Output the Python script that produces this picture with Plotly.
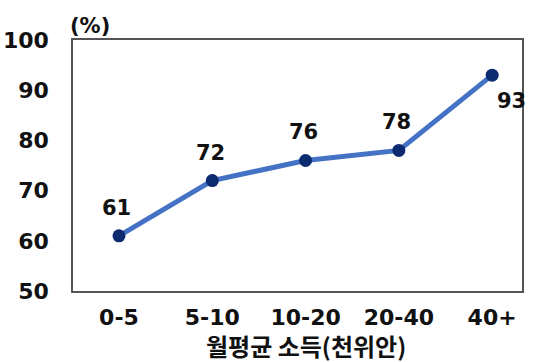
import plotly.graph_objects as go

# Share of respondents (%) by average monthly income bracket
categories = ["0-5", "5-10", "10-20", "20-40", "40+"]
values = [61, 72, 76, 78, 93]
y_ticks = [50, 60, 70, 80, 90, 100]

FONT = "DejaVu Sans, Noto Sans CJK KR, sans-serif"
KR_FONT = "Noto Sans CJK KR, sans-serif"
x_pos = list(range(len(categories)))

fig = go.Figure()
fig.add_trace(go.Scatter(
    x=x_pos, y=values, mode="lines+markers",
    line=dict(color="#4472C4", width=5),
    marker=dict(color="#0B2A6F", size=13),
    hoverinfo="skip",
))

# value labels: above the point, except the last one which sits lower-right
for i, v in enumerate(values):
    if i == len(values) - 1:
        fig.add_annotation(x=x_pos[i], y=v, text=f"<b>{v}</b>", showarrow=False,
                           xshift=19, yshift=-26,
                           font=dict(family=FONT, size=21, color="#111111"))
    else:
        fig.add_annotation(x=x_pos[i], y=v, text=f"<b>{v}</b>", showarrow=False,
                           xshift=-2, yshift=28,
                           font=dict(family=FONT, size=21, color="#111111"))

fig.add_annotation(xref="paper", yref="paper", x=-0.012, y=1.0, xanchor="left",
                   yanchor="bottom", yshift=0, text="<b>(%)</b>", showarrow=False,
                   font=dict(family=FONT, size=21, color="#111111"))

# x-axis caption
fig.add_annotation(xref="paper", yref="paper", x=0.518, y=0, xanchor="center",
                   yanchor="middle", yshift=-54, text="<b>월평균 소득(천위안)</b>",
                   showarrow=False, font=dict(family=KR_FONT, size=24, color="#111111"))

fig.update_xaxes(
    range=[-0.493, 4.32], tickvals=x_pos,
    ticktext=[f"<b>{c}</b>" for c in categories],
    showgrid=False, zeroline=False, showline=True, mirror=True,
    linecolor="#555555", linewidth=1.5, ticks="", ticklabelstandoff=6,
    tickfont=dict(family=FONT, size=22, color="#111111"), automargin=False,
)
fig.update_yaxes(
    range=[50, 100], tickvals=y_ticks, ticktext=[f"<b>{t}</b>" for t in y_ticks],
    showgrid=False, zeroline=False, showline=True, mirror=True,
    linecolor="#555555", linewidth=1.5, ticks="", ticklabelstandoff=18,
    tickfont=dict(family=FONT, size=22, color="#111111"), automargin=False,
)
fig.update_layout(
    width=536, height=362, showlegend=False,
    margin=dict(l=73, r=14, t=40, b=71),
    paper_bgcolor="white", plot_bgcolor="white",
)
fig.write_html("out.html")
